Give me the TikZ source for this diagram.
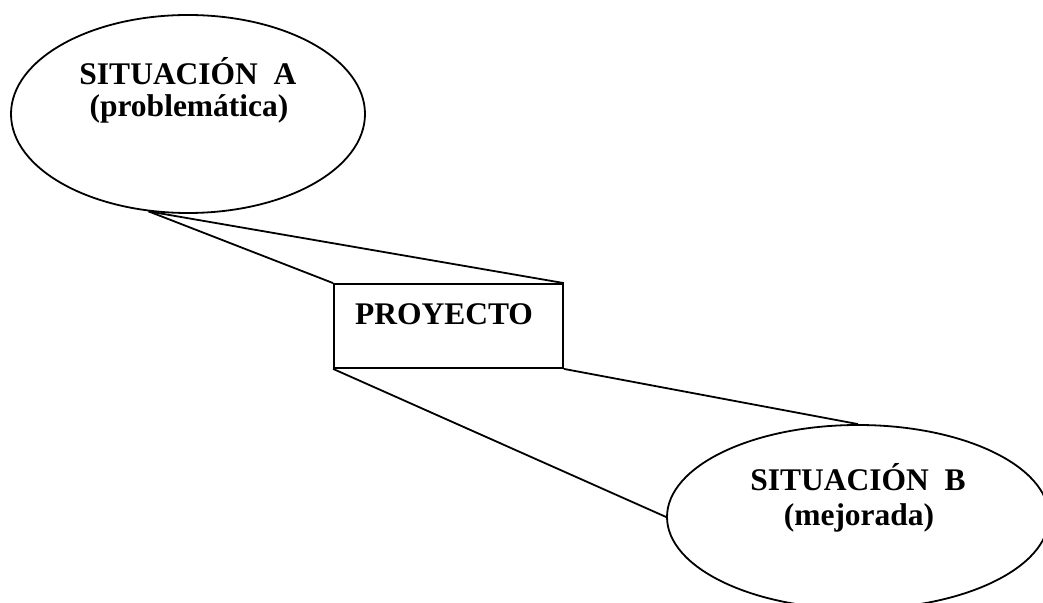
\documentclass[tikz,border=0pt]{standalone}
\usepackage{fontspec}
\setmainfont{Liberation Serif}
\usetikzlibrary{shapes.geometric}
\begin{document}
\begin{tikzpicture}[x=0.5pt, y=-0.5pt, line width=0.9pt,
	font=\fontsize{15.75}{18}\selectfont\bfseries,
	bubble/.style={draw, ellipse, inner sep=0pt},
	caja/.style={draw, rectangle, inner sep=0pt, minimum width=114.5pt, minimum height=42pt},
	txt/.style={inner sep=0pt, anchor=base}]
	\useasboundingbox (0,0) rectangle (1043,603);
	\clip (0,0) rectangle (1043,603);
	\node[bubble, minimum width=177pt, minimum height=99pt] (sitA) at (188,114) {};
	\node[bubble, minimum width=191pt, minimum height=92pt] (sitB) at (858,517) {};
	\node[caja] (proy) at (448.5,326) {};
	\node[txt] (tA1) at (188,85) {SITUACIÓN~~A};
	\node[txt] (tA2) at (189,117) {(problemática)};
	\node[txt] (tB1) at (858,490) {SITUACIÓN~~B};
	\node[txt] (tB2) at (859,525) {(mejorada)};
	\node[txt] (tP) at (444,325) {PROYECTO};
	\draw (sitA.248) -- (proy.north west);
	\draw (sitA.248) -- (proy.north east);
	\draw (proy.south west) -- (sitB.west);
	\draw (proy.south east) -- (sitB.north);
\end{tikzpicture}
\end{document}
